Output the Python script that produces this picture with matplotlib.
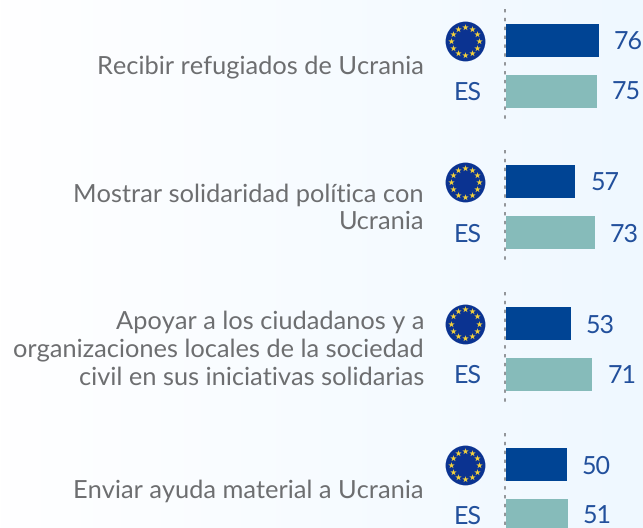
import numpy as np
import matplotlib
matplotlib.use("Agg")
import matplotlib.pyplot as plt

labels = ["Recibir refugiados de Ucrania",
          "Mostrar solidaridad política con\nUcrania",
          "Apoyar a los ciudadanos y a\norganizaciones locales de la sociedad\ncivil en sus iniciativas solidarias",
          "Enviar ayuda material a Ucrania"]
eu_values = [76, 57, 53, 50]
es_values = [75, 73, 71, 51]

W, H = 643, 528
GROUP_STEP = 141.3
EU_COLOR = "#004494"
ES_COLOR = "#86bbba"
VALUE_COLOR = "#22509c"
LABEL_COLOR = "#6d6e70"
FLAG_COLOR = "#0b3391"
STAR_COLOR = "#f5d33c"

plt.rcParams['font.family'] = ['Lato', 'DejaVu Sans']
plt.rcParams['text.hinting'] = 'no_hinting'

fig = plt.figure(figsize=(W/100, H/100), dpi=100)

# background: white to very light blue
bg = fig.add_axes([0, 0, 1, 1])
grad = np.linspace(0, 1, 256).reshape(1, -1)
bg.imshow(grad, aspect='auto', cmap=matplotlib.colors.LinearSegmentedColormap.from_list("bg", ["#ffffff", "#eff8ff"]),
          extent=[0, W, H, 0])
bg.set_xlim(0, W)
bg.set_ylim(H, 0)
bg.axis('off')

# bars live in their own axes, x in percent, y in pixels from the top
x0 = 506
per_unit = 1.218
ax = fig.add_axes([x0/W, 0, (W-x0)/W, 1])
ax.set_xlim(0, (W-x0)/per_unit)
ax.set_ylim(H, 0)
ax.axis('off')

for i in range(len(labels)):
    top = i*GROUP_STEP
    y_eu = top + 40.5
    y_es = top + 91.5
    ax.barh(y_eu, eu_values[i], height=33, color=EU_COLOR)
    ax.barh(y_es, es_values[i], height=33, color=ES_COLOR)
    ax.text(eu_values[i]+24, y_eu, str(eu_values[i]), color=VALUE_COLOR, fontsize=18, ha='center', va='center_baseline')
    ax.text(es_values[i]+24, y_es-0.5, str(es_values[i]), color=VALUE_COLOR, fontsize=18, ha='center', va='center_baseline')

    # dotted axis for the group
    bg.plot([505, 505], [top+9, min(top+122, H)], color="#77797c", lw=1.1, ls=(0, (2.2, 3.6)))

    # flag
    bg.scatter([465], [y_eu+0.5], s=820, color=FLAG_COLOR, linewidths=0, zorder=3)
    ang = np.arange(12)*np.pi/6
    bg.scatter(465+14.3*np.cos(ang), y_eu+0.5+14.3*np.sin(ang), marker='*', s=24, color=STAR_COLOR, linewidths=0, zorder=4)
    bg.text(468, y_es-0.5, "ES", color=VALUE_COLOR, fontsize=18, ha='center', va='center_baseline')

    bg.text(424, top+67, labels[i], color=LABEL_COLOR, fontsize=18.3, ha='right', va='center',
            linespacing=1.27, multialignment='right')

fig.savefig("out.png", dpi=100)
